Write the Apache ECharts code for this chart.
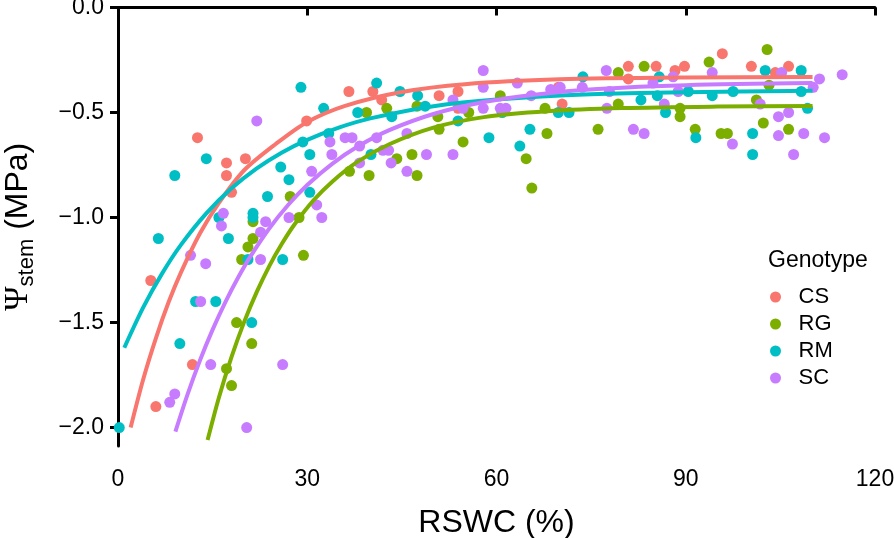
<!DOCTYPE html>
<html>
<head>
<meta charset="utf-8">
<script src="https://cdn.jsdelivr.net/npm/echarts@6/dist/echarts.min.js"></script>
<style>html,body{margin:0;padding:0;background:#fff}#c{width:894px;height:538px}</style>
</head>
<body>
<div id="c"></div>
<script>
// ---- data (RSWC %, Psi stem MPa) ----
const genotypes = ['CS', 'RG', 'RM', 'SC'];
const xTicks = [0, 30, 60, 90, 120];
const yTicks = [0, -0.5, -1.0, -1.5, -2.0];

const CS_points = [
  [29.9,-0.54],[12.6,-0.62],[17.2,-0.74],[20.2,-0.72],[17.2,-0.80],[18.0,-0.88],[5.2,-1.30],
  [11.8,-1.70],[6.0,-1.90],[36.6,-0.40],[40.4,-0.40],[41.8,-0.44],[50.9,-0.42],[53.9,-0.40],
  [53.9,-0.48],[69.8,-0.38],[70.4,-0.46],[80.9,-0.28],[85.3,-0.28],[88.3,-0.30],[89.8,-0.28],
  [95.8,-0.22],[100.4,-0.28],[106.3,-0.28],[104.2,-0.31],[80.9,-0.34]
];
const RG_points = [
  [27.3,-0.90],[21.4,-1.02],[28.7,-1.00],[21.4,-1.10],[20.6,-1.14],[19.6,-1.20],[29.4,-1.18],
  [18.8,-1.50],[21.2,-1.60],[17.2,-1.72],[18.0,-1.80],[39.4,-0.50],[42.6,-0.48],[47.4,-0.47],
  [60.6,-0.42],[55.6,-0.50],[67.7,-0.48],[50.7,-0.52],[50.9,-0.58],[54.7,-0.64],[68.0,-0.60],
  [46.6,-0.70],[44.2,-0.72],[36.7,-0.78],[39.8,-0.80],[47.4,-0.80],[64.7,-0.72],[65.6,-0.86],
  [102.9,-0.20],[83.4,-0.28],[93.7,-0.26],[79.3,-0.31],[103.2,-0.37],[101.2,-0.44],[79.3,-0.46],
  [89.1,-0.48],[89.1,-0.52],[102.3,-0.55],[76.1,-0.58],[91.5,-0.58],[95.6,-0.60],[96.6,-0.60],
  [106.3,-0.58]
];
const RM_points = [
  [29.0,-0.38],[32.6,-0.48],[29.3,-0.64],[14.0,-0.72],[30.4,-0.70],[9.0,-0.80],[25.8,-0.76],
  [27.1,-0.82],[23.7,-0.90],[30.4,-0.88],[16.0,-1.00],[21.4,-0.98],[21.4,-1.00],[6.4,-1.10],
  [17.5,-1.10],[20.6,-1.20],[26.1,-1.20],[12.3,-1.40],[15.5,-1.40],[21.2,-1.50],[9.8,-1.60],
  [0.2,-2.00],[41.0,-0.36],[44.7,-0.40],[47.5,-0.42],[38.0,-0.50],[43.4,-0.52],[48.7,-0.47],
  [60.9,-0.50],[69.8,-0.50],[53.9,-0.54],[33.4,-0.60],[40.1,-0.70],[58.8,-0.62],[65.3,-0.58],
  [63.7,-0.66],[102.6,-0.30],[108.3,-0.30],[73.7,-0.33],[85.8,-0.33],[90.4,-0.40],[82.9,-0.44],
  [85.5,-0.42],[94.2,-0.42],[97.5,-0.40],[108.3,-0.40],[109.3,-0.48],[86.8,-0.50],[71.5,-0.50],
  [91.6,-0.62],[100.6,-0.60],[100.6,-0.70]
];
const SC_points = [
  [22.0,-0.54],[30.7,-0.78],[33.6,-0.64],[33.9,-0.70],[16.7,-0.98],[16.4,-1.04],[23.4,-1.02],
  [27.1,-1.00],[31.5,-0.94],[32.3,-1.00],[22.6,-1.07],[11.5,-1.18],[13.9,-1.22],[22.6,-1.20],
  [13.1,-1.40],[14.7,-1.70],[26.1,-1.70],[9.0,-1.84],[8.2,-1.88],[20.4,-2.00],[57.9,-0.30],
  [53.1,-0.44],[57.9,-0.38],[63.3,-0.36],[65.5,-0.42],[68.6,-0.39],[54.7,-0.48],[57.9,-0.48],
  [60.6,-0.48],[61.5,-0.48],[45.8,-0.60],[36.0,-0.62],[37.1,-0.62],[38.3,-0.66],[41.0,-0.62],
  [42.0,-0.68],[42.9,-0.68],[48.9,-0.70],[53.1,-0.70],[38.3,-0.74],[43.3,-0.74],[45.8,-0.78],
  [77.4,-0.30],[94.2,-0.31],[105.2,-0.31],[111.2,-0.34],[114.8,-0.32],[88.0,-0.33],[70.1,-0.38],
  [73.6,-0.38],[84.8,-0.36],[88.8,-0.40],[77.9,-0.40],[110.2,-0.38],[101.8,-0.46],[77.5,-0.48],
  [86.6,-0.46],[104.7,-0.52],[106.3,-0.50],[81.7,-0.58],[83.4,-0.60],[97.4,-0.65],[104.7,-0.61],
  [108.7,-0.60],[112.0,-0.62],[107.1,-0.70]
];

// fitted curves
const CS_fit = [
  [2.0,-2.00],[4.0,-1.77],[6.0,-1.575],[8.0,-1.405],[10.0,-1.26],[13.0,-1.075],[16.0,-0.93],
  [20.0,-0.775],[25.0,-0.65],[30.0,-0.545],[36.0,-0.468],[45.0,-0.402],[55.0,-0.365],
  [70.0,-0.342],[90.0,-0.333],[110.1,-0.331]
];
const RG_fit = [
  [14.2,-2.06],[16.0,-1.857],[18.0,-1.664],[20.0,-1.497],[22.0,-1.354],[24.0,-1.23],[26.0,-1.124],
  [28.0,-1.032],[31.0,-0.918],[34.0,-0.828],[38.0,-0.734],[43.0,-0.651],[50.0,-0.572],
  [58.0,-0.522],[68.0,-0.494],[80.0,-0.479],[95.0,-0.472],[110.1,-0.469]
];
const RM_fit = [
  [1.0,-1.62],[4.0,-1.428],[7.0,-1.266],[10.0,-1.129],[14.0,-0.98],[18.0,-0.861],[22.0,-0.766],
  [26.0,-0.69],[30.0,-0.63],[35.0,-0.572],[40.0,-0.528],[50.0,-0.47],[60.0,-0.438],
  [75.0,-0.413],[90.0,-0.403],[110.1,-0.397]
];
const SC_fit = [
  [9.1,-2.02],[11.0,-1.845],[13.0,-1.68],[15.0,-1.534],[17.0,-1.404],[19.0,-1.288],[21.0,-1.185],
  [24.0,-1.051],[27.0,-0.939],[30.0,-0.845],[34.0,-0.743],[38.0,-0.662],[43.0,-0.584],
  [50.0,-0.507],[58.0,-0.45],[66.0,-0.415],[76.0,-0.388],[90.0,-0.37],[110.1,-0.36]
];

const colors = ['#F8766D', '#7CAE00', '#00BFC4', '#C77CFF'];
const pointSets = [CS_points, RG_points, RM_points, SC_points];
const fitSets = [CS_fit, RG_fit, RM_fit, SC_fit];

const chart = echarts.init(document.getElementById('c'), null, {renderer: 'canvas'});
const FONT = 'Liberation Sans, Arial, Helvetica, sans-serif';
const fmt = v => (v === 0 ? '0.0' : v.toFixed(1).replace('-', '\u2212'));

const series = [];
genotypes.forEach((g, i) => {
  series.push({
    name: g, type: 'scatter', data: pointSets[i], symbol: 'circle', symbolSize: 11,
    itemStyle: {color: colors[i], opacity: 1}, clip: true, z: 2
  });
});
genotypes.forEach((g, i) => {
  series.push({
    name: g + ' fit', type: 'line', data: fitSets[i], smooth: 0.3, showSymbol: false,
    lineStyle: {color: colors[i], width: 4}, itemStyle: {color: colors[i]}, z: 3, silent: true
  });
});

chart.setOption({
  animation: false,
  backgroundColor: '#fff',
  textStyle: {fontFamily: FONT},
  grid: {left: 118, right: 19, top: 7.5, bottom: 92, containLabel: false, outerBoundsMode: 'none'},
  title: {
    text: 'Genotype', left: 763, top: 244,
    textStyle: {fontFamily: FONT, fontSize: 23, fontWeight: 'normal', color: '#000'}
  },
  legend: {
    data: genotypes, orient: 'vertical', left: 765, top: 281,
    icon: 'circle', itemWidth: 36, itemHeight: 11, itemGap: 5, symbolKeepAspect: true,
    textStyle: {fontFamily: FONT, fontSize: 22, color: '#000', lineHeight: 22},
    selectedMode: false
  },
  xAxis: {
    type: 'value', min: 0, max: 120, interval: 30,
    name: 'RSWC (%)', nameLocation: 'middle', nameGap: 61,
    nameTextStyle: {fontFamily: FONT, fontSize: 32, color: '#000'},
    axisLine: {show: true, lineStyle: {color: '#000', width: 3}},
    axisTick: {show: true, length: 8, lineStyle: {color: '#000', width: 3}},
    axisLabel: {fontFamily: FONT, fontSize: 23, color: '#000', margin: 22,
      customValues: xTicks, formatter: v => String(v)},
    splitLine: {show: false}
  },
  yAxis: {
    type: 'value', min: -2.088, max: 0,
    name: '{psi|\u03A8}{sub|stem}{n| (MPa)}', nameLocation: 'middle', nameGap: 80, nameRotate: 90,
    nameTextStyle: {
      color: '#000',
      rich: {
        psi: {fontFamily: 'Liberation Serif, Times New Roman, serif', fontSize: 33, color: '#000', lineHeight: 40, verticalAlign: 'middle'},
        sub: {fontFamily: FONT, fontSize: 22, color: '#000', lineHeight: 40, verticalAlign: 'bottom'},
        n: {fontFamily: FONT, fontSize: 32, color: '#000', lineHeight: 40, verticalAlign: 'middle'}
      }
    },
    axisLine: {show: true, onZero: false, lineStyle: {color: '#000', width: 3}},
    axisTick: {show: true, length: 8, lineStyle: {color: '#000', width: 3}, customValues: yTicks},
    axisLabel: {fontFamily: FONT, fontSize: 23, color: '#000', margin: 14,
      customValues: yTicks, formatter: fmt},
    splitLine: {show: false}
  },
  series: series
});
</script>
</body>
</html>
